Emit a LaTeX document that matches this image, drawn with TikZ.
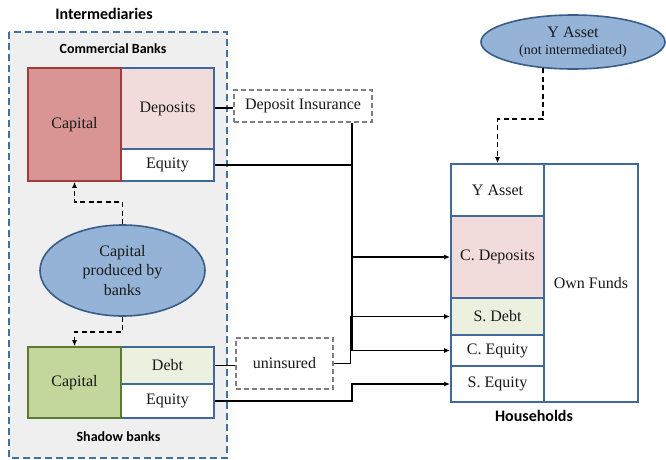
\documentclass[tikz,border=0pt]{standalone}
\usepackage{fontspec}
\setmainfont{Liberation Serif}
\newfontfamily\labfont{Carlito}
\usetikzlibrary{shapes.geometric,arrows.meta,calc}
\definecolor{bblue}{HTML}{41689A}
\definecolor{outerblue}{HTML}{41719C}
\definecolor{outerfill}{HTML}{EFEFEF}
\definecolor{redfill}{HTML}{D99594}
\definecolor{redline}{HTML}{A03C3A}
\definecolor{pinkfill}{HTML}{F2DCDB}
\definecolor{greenfill}{HTML}{C3D69B}
\definecolor{greenline}{HTML}{5E7A30}
\definecolor{lgreen}{HTML}{EBF1DE}
\definecolor{ellfill}{HTML}{95B3D7}
\definecolor{ellline}{HTML}{385D8A}
\definecolor{dgray}{HTML}{7F7F7F}
\begin{document}
\begin{tikzpicture}[x=1pt,y=-1pt,
  txt/.style={font=\fontsize{16}{19.5}\selectfont, text=black!90},
  cell/.style={txt, draw=bblue, line width=1.8pt, inner sep=0pt, fill=white},
  capbox/.style={txt, line width=1.6pt, inner sep=0pt},
  ell/.style={txt, ellipse, draw=ellline, line width=1.6pt, fill=ellfill, inner sep=0pt, align=center},
  dbox/.style={txt, draw=dgray, line width=1.5pt, dash pattern=on 5pt off 3pt, inner sep=0pt, fill=white},
  conn/.style={line width=1.6pt, black},
  arr/.style={conn, -{Latex[length=6pt,width=5pt]}},
  darr/.style={line width=1.6pt, black, dash pattern=on 5pt off 3.5pt, -{Latex[length=6pt,width=5pt]}},
  lab/.style={font=\labfont\bfseries\fontsize{14}{16}\selectfont, text=black}
]
\useasboundingbox (0,0) rectangle (666,460);
% outer intermediaries box
\draw[draw=outerblue, fill=outerfill, line width=2pt, dash pattern=on 7pt off 4pt] (9,32) rectangle (227,458);
\node[lab, font=\labfont\bfseries\fontsize{16}{18}\selectfont] (tint) at (104,14) {Intermediaries};
\node[lab] (tcb) at (113,49) {Commercial Banks};
\node[lab] (tsb) at (118.5,437) {Shadow banks};

% commercial banks
\node[cell, fill=pinkfill, minimum width=93pt, minimum height=81pt] (cdep) at (167.5,108.5) {Deposits};
\node[cell, minimum width=93pt, minimum height=32pt] (ceq) at (167.5,165) {Equity};
\node[capbox, draw=redline, fill=redfill, minimum width=93pt, minimum height=113pt] (ccap) at (74.5,124.5) {Capital};

% capital produced by banks
\node[ell, minimum width=165pt, minimum height=91pt] (cpb) at (122.5,270.5) {Capital\\produced by\\banks};

% shadow banks
\node[cell, fill=lgreen, minimum width=93pt, minimum height=37pt] (sdebt) at (167.5,365.5) {Debt};
\node[cell, minimum width=93pt, minimum height=34pt] (seq) at (167.5,401) {Equity};
\node[capbox, draw=greenline, fill=greenfill, minimum width=93pt, minimum height=71pt] (scap) at (74.5,382.5) {Capital};

% insurance boxes
\node[dbox, minimum width=138pt, minimum height=32pt] (dins) at (303,106) {Deposit Insurance};
\node[dbox, minimum width=97pt, minimum height=51pt] (unins) at (284.5,363.5) {uninsured};

% households
\node[cell, minimum width=94pt, minimum height=238pt] (hown) at (591,283) {Own Funds};
\node[cell, minimum width=93pt, minimum height=52pt] (hy) at (497.5,190) {Y Asset};
\node[cell, fill=pinkfill, minimum width=93pt, minimum height=82pt] (hcdep) at (497.5,257) {C. Deposits};
\node[cell, fill=lgreen, minimum width=93pt, minimum height=37pt] (hsdebt) at (497.5,316.5) {S. Debt};
\node[cell, minimum width=93pt, minimum height=31pt] (hceq) at (497.5,350.5) {C. Equity};
\node[cell, minimum width=93pt, minimum height=36pt] (hseq) at (497.5,384) {S. Equity};
\node[lab, font=\labfont\bfseries\fontsize{16}{18}\selectfont] (thh) at (534,416) {Households};

% Y asset ellipse
\node[ell, minimum width=184pt, minimum height=54pt] (yell) at (573,42) {Y Asset\\[-2pt]{\fontsize{14}{16}\selectfont (not intermediated)}};

% bus coordinates
\coordinate (bus) at (352,0);
\coordinate (bus2) at (350.5,0);

% connectors
\draw[conn] (cdep.east |- 0,108) -- (dins.west |- 0,108);
\draw[arr] (dins.south -| bus) |- (hcdep.west);
\draw[arr] (ceq.east) -- (ceq.east -| bus) |- (hceq.west);
\draw[conn] (sdebt.east) -- (unins.west |- sdebt.east);
\draw[arr] (unins.east) -- (unins.east -| bus2) |- (hsdebt.west);
\draw[arr] (seq.east) -- (seq.east -| bus) |- (hseq.west);

% dashed arrows
\draw[darr] (cpb.north) -- ++(0,-22) -| (ccap.south);
\draw[darr] (cpb.south) -- ++(0,15) -| (scap.north);
\draw[darr] (yell.221) -- ++(0,51) -| (hy.north);
\end{tikzpicture}
\end{document}
